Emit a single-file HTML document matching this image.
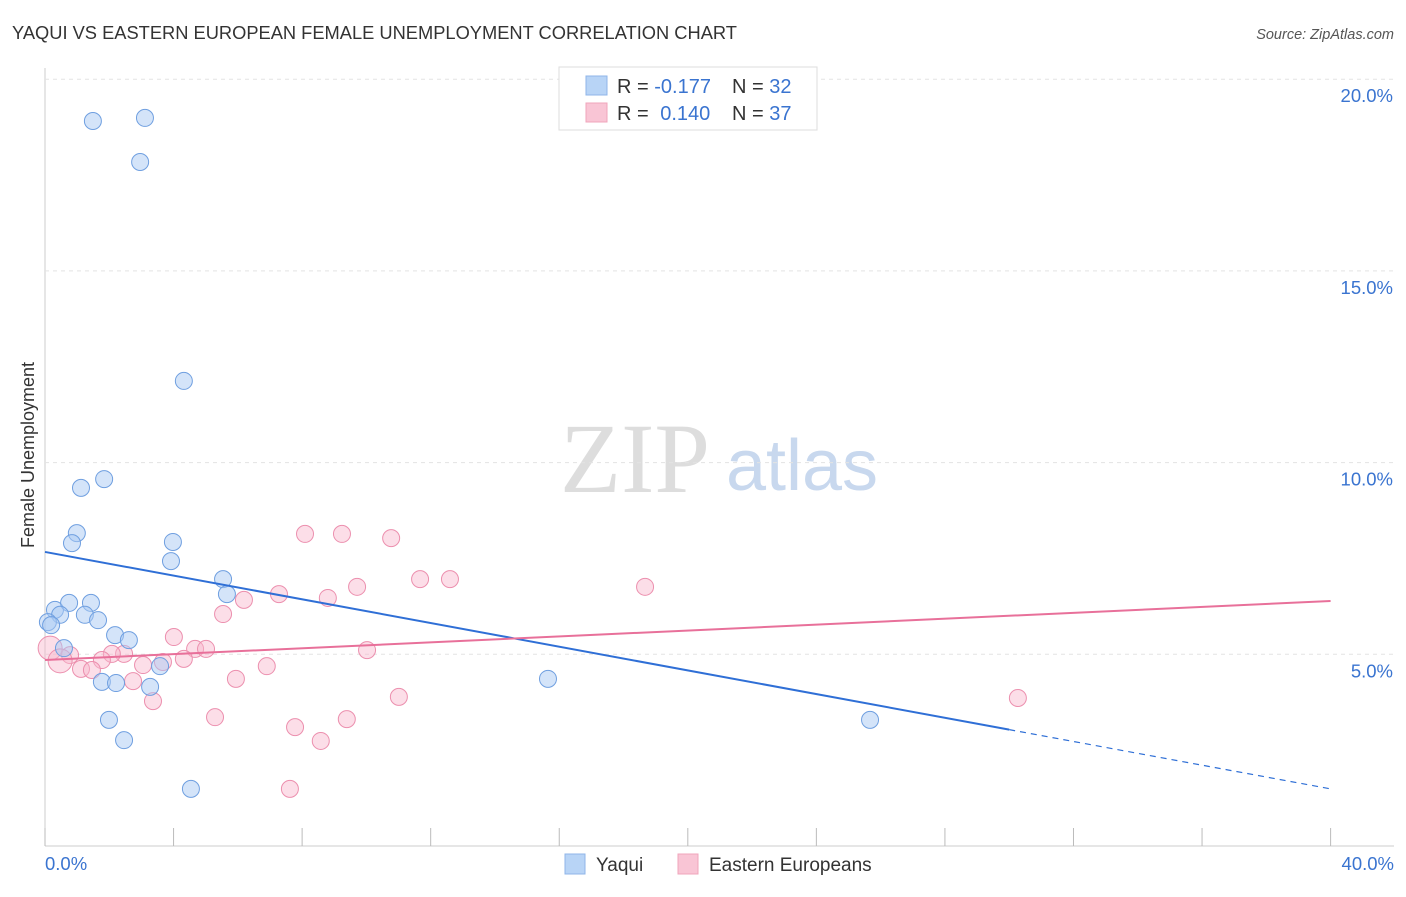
<!DOCTYPE html>
<html><head><meta charset="utf-8"><style>
body{margin:0;background:#fff;font-family:"Liberation Sans",sans-serif}
</style></head><body>
<svg id="c" width="1406" height="892" font-family="Liberation Sans, sans-serif">
<text x="12" y="39" font-size="18.3" fill="#333">YAQUI VS EASTERN EUROPEAN FEMALE UNEMPLOYMENT CORRELATION CHART</text>
<text x="1394" y="39" font-size="14.5" fill="#555" font-style="italic" text-anchor="end">Source: ZipAtlas.com</text>
<text x="635" y="492" font-size="100" fill="#ddd" style="font-family:'Liberation Serif',serif" text-anchor="middle">ZIP</text>
<text x="802" y="490" font-size="72" fill="#c8d8ee" text-anchor="middle">atlas</text>
<text transform="translate(34,455) rotate(-90)" font-size="18" fill="#333" text-anchor="middle">Female Unemployment</text>
<g id="grid"></g><g id="marks"></g>
<g>
<rect x="559" y="67" width="258" height="63" fill="#fff" stroke="#ddd"/>
<rect x="586" y="76" width="21" height="19" fill="#b8d4f6" stroke="#8fb5e8"/>
<rect x="586" y="103" width="21" height="19" fill="#f9c5d5" stroke="#f0a5bb"/>
<text x="617" y="93" font-size="20" fill="#333">R = <tspan fill="#3a74d0">-0.177</tspan></text>
<text x="732" y="93" font-size="20" fill="#333">N = <tspan fill="#3a74d0">32</tspan></text>
<text x="617" y="120" font-size="20" fill="#333">R = <tspan fill="#3a74d0" dx="6">0.140</tspan></text>
<text x="732" y="120" font-size="20" fill="#333">N = <tspan fill="#3a74d0">37</tspan></text>
</g>
<g>
<rect x="565" y="854" width="20" height="20" fill="#b8d4f6" stroke="#8fb5e8"/>
<text x="596" y="871" font-size="19" fill="#333">Yaqui</text>
<rect x="678" y="854" width="20" height="20" fill="#f9c5d5" stroke="#f0a5bb"/>
<text x="709" y="871" font-size="19" fill="#333">Eastern Europeans</text>
</g>
</svg>
<script>
const yTicks=[5,10,15,20];
const xTickLabels=["0.0%","40.0%"];
const yaquiX=[1.49,3.11,2.96,4.32,1.84,1.12,0.99,0.84,3.98,3.92,5.54,5.66,0.31,0.75,1.43,0.47,1.24,0.09,0.19,1.65,2.18,2.61,0.59,3.58,1.77,2.21,3.27,1.99,2.46,4.54,15.65,25.67];
const yaquiY=[18.91,18.99,17.84,12.13,9.57,9.34,8.16,7.90,7.93,7.43,6.96,6.57,6.16,6.34,6.34,6.03,6.03,5.84,5.76,5.89,5.50,5.37,5.16,4.69,4.28,4.25,4.15,3.29,2.76,1.49,4.36,3.29];
const eastX=[8.09,9.24,10.77,11.67,12.60,9.71,18.67,7.28,8.80,6.19,5.54,4.01,4.67,5.01,10.02,2.46,2.08,0.78,0.16,0.47,1.77,4.32,3.67,3.05,1.12,1.46,6.90,5.94,2.74,3.36,11.01,30.27,5.29,9.39,7.78,8.58,7.62];
const eastY=[8.14,8.14,8.03,6.96,6.96,6.76,6.76,6.57,6.47,6.42,6.05,5.45,5.14,5.14,5.11,5.01,5.01,4.98,5.16,4.83,4.85,4.88,4.80,4.72,4.62,4.59,4.69,4.36,4.30,3.78,3.89,3.86,3.36,3.31,3.10,2.74,1.49];
const yaquiTrend=[7.67,1.49];
const eastTrend=[4.85,6.39];
const X=v=>45+v*32.14, Y=v=>846-v*38.34;
const NS="http://www.w3.org/2000/svg";
const grid=document.getElementById('grid'), marks=document.getElementById('marks');
function mk(p,tag,a){const e=document.createElementNS(NS,tag);for(const k in a)e.setAttribute(k,a[k]);p.appendChild(e);return e;}
let ax=mk(grid,'line',{x1:45,y1:68,x2:45,y2:846,stroke:'#ccc'});


let bx=mk(grid,'line',{x1:45,y1:846,x2:1394,y2:846,stroke:'#ccc'});


yTicks.forEach(t=>{
 let g=mk(grid,'line',{x1:45,x2:1394,y1:Y(t),y2:Y(t),stroke:'#e3e3e3','stroke-dasharray':'4,4'});
 
 
 let l=mk(grid,'text',{x:1393,y:Y(t)+23,'font-size':18.5,fill:'#3a74d0','text-anchor':'end'});
 l.textContent=t.toFixed(1)+'%';
 
 
});
for(let i=0;i<=10;i++){
 let t=mk(grid,'line',{x1:X(i*4),x2:X(i*4),y1:828,y2:846,stroke:'#bbb'});
 
 
}
[[0,'start',45],[40,'end',1394]].forEach((d,i)=>{
 let l=mk(grid,'text',{x:d[2],y:870,'font-size':18.5,fill:'#3a74d0','text-anchor':d[1]});
 l.textContent=xTickLabels[i];
 
 
});
eastX.forEach((x,i)=>{
 let c=mk(marks,'circle',{cx:X(x),cy:Y(eastY[i]),r:(i==18||i==19)?12:8.5,fill:'rgba(249,182,205,0.45)',stroke:'#ec8fae','stroke-width':1});
 
 
});
yaquiX.forEach((x,i)=>{
 let c=mk(marks,'circle',{cx:X(x),cy:Y(yaquiY[i]),r:8.5,fill:'rgba(170,202,243,0.5)',stroke:'#6f9fe0','stroke-width':1});
 
 
});
const yt=v=>yaquiTrend[0]+(yaquiTrend[1]-yaquiTrend[0])*v/40;
let l1=mk(marks,'line',{x1:X(0),y1:Y(yt(0)),x2:X(30),y2:Y(yt(30)),stroke:'#2f6fd6','stroke-width':2});


let l2=mk(marks,'line',{x1:X(30),y1:Y(yt(30)),x2:X(40),y2:Y(yt(40)),stroke:'#2f6fd6','stroke-width':1.2,'stroke-dasharray':'6,5'});


let l3=mk(marks,'line',{x1:X(0),y1:Y(eastTrend[0]),x2:X(40),y2:Y(eastTrend[1]),stroke:'#e8709a','stroke-width':2});


</script>
</body></html>
